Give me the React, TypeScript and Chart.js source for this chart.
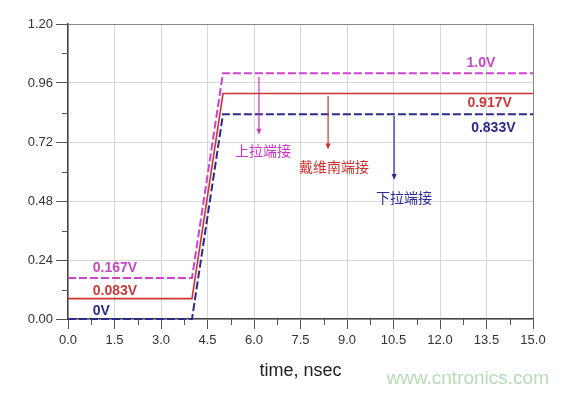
import React, { useEffect, useRef } from "react";
import { Chart, registerables } from "chart.js";

Chart.register(...registerables);
Chart.defaults.font.family = "'Liberation Sans', Arial, sans-serif";

// ---- data ----
const timeNs = [0, 4.0, 5.0, 15.0];
const pullUpV = [0.167, 0.167, 1.0, 1.0];
const theveninV = [0.083, 0.083, 0.917, 0.917];
const pullDownV = [0, 0, 0.833, 0.833];

const xTickStep = 1.5;
const yTickStep = 0.24;
const xMinorTicks = [0.75, 2.25, 3.75, 5.25, 6.75, 8.25, 9.75, 11.25, 12.75, 14.25];
const yMinorTicks = [0.12, 0.36, 0.6, 0.84, 1.08];

const MAG = "#cc44cc";
const RED = "#cc3333";
const NAVY = "#2b2b88";

const levelLabels = [
  { text: "1.0V", x: 13.32, y: 1.04, color: "#c648c6", align: "center" },
  { text: "0.917V", x: 13.6, y: 0.879, color: "#c83a3a", align: "center" },
  { text: "0.833V", x: 13.72, y: 0.775, color: NAVY, align: "center" },
  { text: "0.167V", x: 0.8, y: 0.207, color: "#c648c6", align: "left" },
  { text: "0.083V", x: 0.8, y: 0.114, color: "#c83a3a", align: "left" },
  { text: "0V", x: 0.8, y: 0.03, color: NAVY, align: "left" },
];

const arrowNotes = [
  { text: "上拉端接", x: 6.16, yFrom: 0.985, yTo: 0.75, tx: 6.29, ty: 0.683, color: "#cc33cc" },
  { text: "戴维南端接", x: 8.39, yFrom: 0.907, yTo: 0.69, tx: 8.58, ty: 0.618, color: "#d03030" },
  { text: "下拉端接", x: 10.52, yFrom: 0.826, yTo: 0.565, tx: 10.84, ty: 0.492, color: "#2b2b99" },
];

const xTitle = "time, nsec";
const watermark = "www.cntronics.com";

const toPoints = (ys: number[]) => timeNs.map((t, i) => ({ x: t, y: ys[i] }));

const overlayPlugin = {
  id: "overlay",
  afterDatasetsDraw(chart: any) {
    const { ctx, scales } = chart;
    const xs = scales.x;
    const ys = scales.y;
    ctx.save();
    ctx.textBaseline = "middle";
    ctx.font = "bold 14px 'Liberation Sans', Arial, sans-serif";
    for (const l of levelLabels) {
      ctx.fillStyle = l.color;
      ctx.textAlign = l.align as CanvasTextAlign;
      ctx.fillText(l.text, xs.getPixelForValue(l.x), ys.getPixelForValue(l.y));
    }
    for (const a of arrowNotes) {
      const px = xs.getPixelForValue(a.x);
      const p1 = ys.getPixelForValue(a.yFrom);
      const p2 = ys.getPixelForValue(a.yTo);
      ctx.strokeStyle = a.color;
      ctx.fillStyle = a.color;
      ctx.lineWidth = 1.2;
      ctx.beginPath();
      ctx.moveTo(px, p1);
      ctx.lineTo(px, p2 - 5);
      ctx.stroke();
      ctx.beginPath();
      ctx.moveTo(px - 2.5, p2 - 6);
      ctx.lineTo(px + 2.5, p2 - 6);
      ctx.lineTo(px, p2);
      ctx.closePath();
      ctx.fill();
      ctx.font = "14px 'Noto Sans CJK SC', sans-serif";
      ctx.textAlign = "center";
      ctx.fillText(a.text, xs.getPixelForValue(a.tx), ys.getPixelForValue(a.ty));
    }
    ctx.restore();
  },
  afterDraw(chart: any) {
    const { ctx, scales, chartArea } = chart;
    const xs = scales.x;
    const ys = scales.y;
    ctx.save();
    ctx.strokeStyle = "#555";
    ctx.lineWidth = 1;
    for (const v of xMinorTicks) {
      const px = Math.round(xs.getPixelForValue(v)) + 0.5;
      ctx.beginPath();
      ctx.moveTo(px, chartArea.bottom);
      ctx.lineTo(px, chartArea.bottom + 6);
      ctx.stroke();
    }
    for (const v of yMinorTicks) {
      const py = Math.round(ys.getPixelForValue(v)) + 0.5;
      ctx.beginPath();
      ctx.moveTo(chartArea.left - 6, py);
      ctx.lineTo(chartArea.left, py);
      ctx.stroke();
    }
    ctx.fillStyle = "#222";
    ctx.textAlign = "center";
    ctx.textBaseline = "middle";
    ctx.font = "18px 'Liberation Sans', Arial, sans-serif";
    ctx.fillText(xTitle, (chartArea.left + chartArea.right) / 2, chartArea.bottom + 52);
    ctx.fillStyle = "#b7dbb7";
    ctx.font = "19px 'Liberation Sans', Arial, sans-serif";
    ctx.textAlign = "right";
    ctx.fillText(watermark, chartArea.right + 16, chartArea.bottom + 60);
    ctx.restore();
  },
};

export default function App() {
  const ref = useRef<HTMLCanvasElement>(null);
  useEffect(() => {
    if (!ref.current) return;
    const chart = new Chart(ref.current, {
      type: "line",
      data: {
        datasets: [
          {
            data: toPoints(pullUpV),
            borderColor: MAG,
            borderWidth: 2,
            borderDash: [8, 3],
            pointRadius: 0,
            clip: 4,
          } as any,
          {
            data: toPoints(theveninV),
            borderColor: RED,
            borderWidth: 1.6,
            pointRadius: 0,
            clip: 4,
          } as any,
          {
            data: toPoints(pullDownV),
            borderColor: NAVY,
            borderWidth: 2,
            borderDash: [8, 3],
            pointRadius: 0,
            clip: 4,
          } as any,
        ],
      },
      options: {
        animation: false,
        responsive: false,
        layout: { padding: { top: 24, right: 36, left: 0, bottom: 0 } },
        plugins: { legend: { display: false }, tooltip: { enabled: false } },
        scales: {
          x: {
            type: "linear",
            min: 0,
            max: 15,
            ticks: {
              stepSize: xTickStep,
              autoSkip: false,
              maxRotation: 0,
              padding: 4,
              color: "#333",
              font: { size: 13 },
              callback: (v: any) => Number(v).toFixed(1),
            },
            grid: {
              color: (c: any) => (c.tick && c.tick.value >= 14.99 ? "#888" : "#d6d6d6"),
              tickColor: "#555",
              tickLength: 10,
            },
            border: { color: "#444", width: 1.5 },
            afterFit: (s: any) => {
              s.height = 75;
            },
          },
          y: {
            type: "linear",
            min: 0,
            max: 1.2,
            ticks: {
              stepSize: yTickStep,
              padding: 3,
              color: "#333",
              font: { size: 13 },
              callback: (v: any) => Number(v).toFixed(2),
            },
            grid: {
              color: (c: any) => (c.tick && c.tick.value >= 1.19 ? "#888" : "#d6d6d6"),
              tickColor: "#555",
              tickLength: 12,
            },
            border: { color: "#444", width: 1.5 },
            afterFit: (s: any) => {
              s.width = 68;
            },
          },
        },
      },
      plugins: [overlayPlugin],
    });
    return () => chart.destroy();
  }, []);
  return (
    <div style={{ position: "fixed", left: 0, top: 0, width: 569, height: 394, background: "#fff" }}>
      <canvas ref={ref} width={569} height={394} />
    </div>
  );
}
